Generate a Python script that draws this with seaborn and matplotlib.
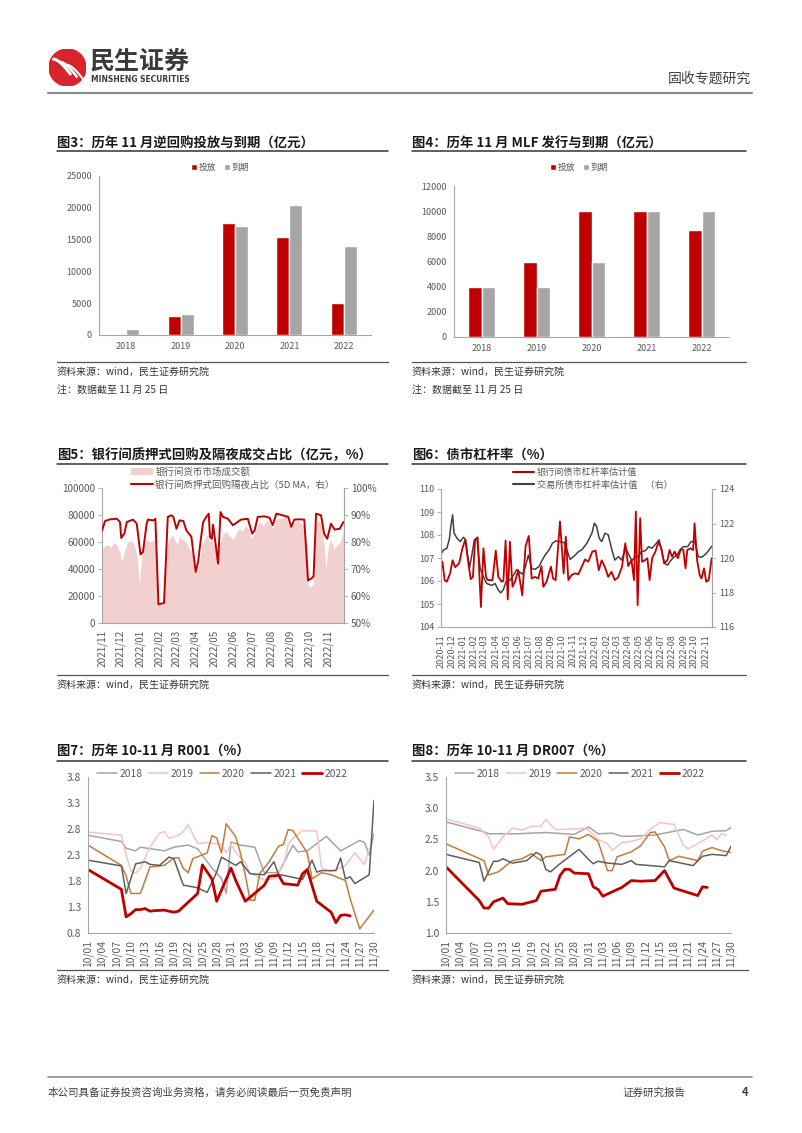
import numpy as np
import pandas as pd
import matplotlib
matplotlib.use('Agg')
import matplotlib.pyplot as plt
import seaborn as sns
from matplotlib.lines import Line2D
from matplotlib.patches import Patch, Circle
from matplotlib.ticker import FuncFormatter

sns.set_style('white')
plt.rcParams['font.family'] = ['Noto Sans CJK SC', 'DejaVu Sans']
plt.rcParams['axes.unicode_minus'] = False

# ---------------- data ----------------
years = ['2018', '2019', '2020', '2021', '2022']
rr_put = [0, 3000, 17600, 15400, 5000]
rr_due = [1000, 3300, 17200, 20400, 14000]
mlf_put = [4000, 6000, 10000, 10000, 8500]
mlf_due = [4000, 4000, 6000, 10000, 10000]

# fig5: interbank volume (亿元) and overnight share (%, 5D MA)
vol_dates = ['2021-11-01', '2021-11-05', '2021-11-10', '2021-11-15', '2021-11-20', '2021-11-25',
             '2021-11-30', '2021-12-03', '2021-12-08', '2021-12-13', '2021-12-18', '2021-12-23',
             '2021-12-28', '2021-12-31', '2022-01-04', '2022-01-08', '2022-01-13', '2022-01-18',
             '2022-01-24', '2022-01-28', '2022-01-31', '2022-02-05', '2022-02-09', '2022-02-14',
             '2022-02-18', '2022-02-22', '2022-02-26', '2022-03-02', '2022-03-06', '2022-03-11',
             '2022-03-16', '2022-03-21', '2022-03-26', '2022-03-31', '2022-04-03', '2022-04-07',
             '2022-04-11', '2022-04-15', '2022-04-20', '2022-04-24', '2022-04-28', '2022-05-02',
             '2022-05-06', '2022-05-10', '2022-05-15', '2022-05-20', '2022-05-25', '2022-05-31',
             '2022-06-05', '2022-06-10', '2022-06-15', '2022-06-20', '2022-06-25', '2022-06-30',
             '2022-07-04', '2022-07-09', '2022-07-14', '2022-07-19', '2022-07-24', '2022-07-29',
             '2022-08-03', '2022-08-08', '2022-08-13', '2022-08-18', '2022-08-23', '2022-08-28',
             '2022-09-02', '2022-09-07', '2022-09-12', '2022-09-17', '2022-09-22', '2022-09-27',
             '2022-09-30', '2022-10-04', '2022-10-08', '2022-10-11', '2022-10-15', '2022-10-20',
             '2022-10-24', '2022-10-28', '2022-11-01', '2022-11-05', '2022-11-10', '2022-11-15',
             '2022-11-20', '2022-11-25']
vol = [55000, 57000, 58000, 56000, 60000, 58000,
       52000, 45000, 55000, 60000, 61000, 58000,
       48000, 28000, 50000, 58000, 62000, 60000,
       62000, 55000, 14000, 13000, 14000, 58000,
       63000, 65000, 62000, 58000, 64000, 62000,
       60000, 56000, 52000, 40000, 38000, 45000,
       58000, 62000, 66000, 60000, 62000, 55000,
       45000, 60000, 66000, 68000, 65000, 62000,
       66000, 70000, 68000, 72000, 70000, 62000,
       66000, 72000, 75000, 72000, 76000, 74000,
       70000, 76000, 78000, 77000, 79000, 75000,
       70000, 74000, 76000, 74000, 72000, 60000,
       27000, 27000, 29000, 70000, 76000, 74000,
       62000, 40000, 58000, 62000, 55000, 58000,
       60000, 68000]
ratio_dates = ['2021-11-01', '2021-11-06', '2021-11-14', '2021-11-25', '2021-11-30', '2021-12-02',
               '2021-12-07', '2021-12-11', '2021-12-21', '2021-12-27', '2022-01-02', '2022-01-06',
               '2022-01-12', '2022-01-14', '2022-01-23', '2022-01-26', '2022-01-31', '2022-02-05',
               '2022-02-09', '2022-02-15', '2022-02-21', '2022-02-24', '2022-03-01', '2022-03-06',
               '2022-03-12', '2022-03-17', '2022-03-25', '2022-04-01', '2022-04-05', '2022-04-09',
               '2022-04-13', '2022-04-18', '2022-04-22', '2022-04-24', '2022-04-27', '2022-04-29',
               '2022-05-02', '2022-05-07', '2022-05-11', '2022-05-15', '2022-05-23', '2022-05-31',
               '2022-06-05', '2022-06-13', '2022-06-24', '2022-07-01', '2022-07-05', '2022-07-10',
               '2022-07-21', '2022-07-29', '2022-08-03', '2022-08-09', '2022-08-19', '2022-08-28',
               '2022-09-02', '2022-09-07', '2022-09-15', '2022-09-23', '2022-09-29', '2022-10-04',
               '2022-10-08', '2022-10-12', '2022-10-20', '2022-10-25', '2022-10-30', '2022-11-05',
               '2022-11-11', '2022-11-19', '2022-11-25']
ratio = [84.3, 87.8, 88.4, 88.6, 87.4, 81.5,
         83.1, 87.4, 88.3, 86.8, 75.4, 76.3,
         86.8, 88.3, 88.0, 88.6, 56.9, 57.2,
         57.4, 89.3, 89.9, 89.3, 84.9, 88.0,
         87.8, 84.3, 82.0, 68.9, 72.8, 80.6,
         87.4, 89.3, 90.5, 81.9, 81.2, 86.4,
         81.2, 72.0, 91.1, 89.3, 88.6, 86.2,
         87.0, 88.3, 88.6, 83.1, 84.3, 89.3,
         89.5, 89.0, 86.2, 90.5, 89.9, 89.3,
         85.6, 88.3, 88.4, 88.3, 65.8, 66.4,
         67.3, 90.5, 89.9, 83.1, 81.2, 86.8,
         84.6, 84.9, 87.4]
months5 = ['2021/11', '2021/12', '2022/01', '2022/02', '2022/03', '2022/04', '2022/05',
           '2022/06', '2022/07', '2022/08', '2022/09', '2022/10', '2022/11']

# fig6: leverage ratio estimates
bank_dates = ['2020-11-01', '2020-11-05', '2020-11-11', '2020-11-17', '2020-11-26', '2020-12-03',
              '2020-12-10', '2020-12-21', '2020-12-30', '2021-01-07', '2021-01-16', '2021-01-22',
              '2021-01-28', '2021-02-03', '2021-02-10', '2021-02-15', '2021-02-19', '2021-02-26',
              '2021-03-05', '2021-03-10', '2021-03-23', '2021-04-01', '2021-04-08', '2021-04-17',
              '2021-04-22', '2021-04-28', '2021-05-04', '2021-05-10', '2021-05-17', '2021-05-24',
              '2021-06-02', '2021-06-13', '2021-06-22', '2021-07-01', '2021-07-09', '2021-07-18',
              '2021-07-27', '2021-08-05', '2021-08-10', '2021-08-19', '2021-08-31', '2021-09-06',
              '2021-09-13', '2021-09-25', '2021-10-05', '2021-10-11', '2021-10-18', '2021-10-27',
              '2021-11-05', '2021-11-15', '2021-11-24', '2021-12-03', '2021-12-12', '2021-12-23',
              '2022-01-01', '2022-01-10', '2022-01-18', '2022-01-27', '2022-02-05', '2022-02-14',
              '2022-02-23', '2022-03-04', '2022-03-15', '2022-03-24', '2022-04-01', '2022-04-10',
              '2022-04-17', '2022-04-22', '2022-04-27', '2022-05-04', '2022-05-09', '2022-05-17',
              '2022-05-24', '2022-05-30', '2022-06-06', '2022-06-15', '2022-06-24', '2022-07-01',
              '2022-07-09', '2022-07-18', '2022-07-24', '2022-07-31', '2022-08-07', '2022-08-16',
              '2022-08-24', '2022-08-31', '2022-09-06', '2022-09-11', '2022-09-20', '2022-09-27',
              '2022-10-01', '2022-10-08', '2022-10-15', '2022-10-20', '2022-10-27', '2022-11-02',
              '2022-11-09', '2022-11-17']
bank_lev = [106.50, 106.84, 106.04, 105.97, 106.33, 106.90,
            106.60, 106.77, 107.42, 107.80, 106.70, 106.08,
            106.18, 107.79, 107.90, 106.20, 104.87, 107.42,
            106.18, 106.04, 106.04, 107.32, 106.18, 105.97,
            106.00, 107.76, 105.20, 107.71, 105.75, 105.97,
            106.47, 105.38, 107.50, 107.96, 106.11, 106.18,
            106.11, 106.65, 105.75, 105.97, 106.62, 106.11,
            106.04, 108.59, 106.33, 107.93, 106.04, 106.26,
            106.33, 106.30, 106.62, 106.94, 106.84, 107.28,
            107.32, 106.47, 106.90, 106.60, 106.18, 106.40,
            106.04, 106.16, 106.62, 107.64, 106.65, 106.90,
            106.04, 109.02, 104.95, 108.73, 106.84, 106.90,
            106.99, 106.04, 106.99, 107.28, 107.71, 107.42,
            106.77, 106.90, 107.35, 107.06, 107.28, 106.99,
            107.38, 107.35, 106.55, 107.35, 107.42, 107.35,
            108.51, 106.90, 106.26, 106.11, 106.55, 105.97,
            106.04, 106.99]
exch_dates = ['2020-11-01', '2020-11-08', '2020-11-17', '2020-11-24', '2020-11-28', '2020-12-03',
              '2020-12-07', '2020-12-15', '2020-12-24', '2021-01-02', '2021-01-08', '2021-01-13',
              '2021-01-19', '2021-01-25', '2021-02-01', '2021-02-08', '2021-02-12', '2021-02-17',
              '2021-02-26', '2021-03-07', '2021-03-21', '2021-03-30', '2021-04-08', '2021-04-15',
              '2021-04-22', '2021-04-29', '2021-05-11', '2021-05-22', '2021-05-29', '2021-06-04',
              '2021-06-14', '2021-06-21', '2021-06-30', '2021-07-09', '2021-07-18', '2021-07-29',
              '2021-08-07', '2021-08-15', '2021-08-26', '2021-09-04', '2021-09-13', '2021-09-25',
              '2021-10-07', '2021-10-14', '2021-10-23', '2021-11-06', '2021-11-15', '2021-11-24',
              '2021-12-08', '2021-12-22', '2021-12-29', '2022-01-04', '2022-01-11', '2022-01-18',
              '2022-01-27', '2022-02-05', '2022-02-14', '2022-02-23', '2022-03-05', '2022-03-14',
              '2022-03-25', '2022-04-02', '2022-04-11', '2022-04-20', '2022-04-29', '2022-05-08',
              '2022-05-19', '2022-05-27', '2022-06-05', '2022-06-14', '2022-06-25', '2022-07-02',
              '2022-07-10', '2022-07-19', '2022-07-25', '2022-08-04', '2022-08-13', '2022-08-22',
              '2022-08-31', '2022-09-12', '2022-09-21', '2022-10-02', '2022-10-11', '2022-10-20',
              '2022-11-01', '2022-11-10', '2022-11-18']
exch_lev = [120.23, 120.47, 120.56, 121.09, 121.83, 122.50,
            121.44, 121.15, 120.95, 121.20, 121.05, 120.17,
            119.46, 120.17, 121.05, 121.15, 120.31, 119.40,
            118.91, 118.52, 118.41, 118.52, 118.14, 117.98,
            118.17, 118.62, 118.72, 119.07, 119.34, 119.20,
            119.07, 119.46, 120.17, 119.40, 119.34, 119.50,
            119.88, 120.17, 120.47, 120.85, 120.99, 120.95,
            120.89, 120.47, 119.92, 120.17, 120.37, 120.47,
            120.85, 121.44, 122.02, 121.83, 121.15, 120.95,
            121.44, 121.34, 120.56, 119.88, 120.08, 119.88,
            120.56, 120.23, 119.84, 120.08, 120.08, 120.37,
            120.43, 120.66, 120.56, 120.76, 121.05, 120.47,
            119.69, 119.59, 119.79, 120.04, 120.17, 120.47,
            120.66, 120.66, 120.95, 120.95, 120.08, 120.04,
            120.23, 120.47, 120.70]
months6 = ['2020-11', '2020-12', '2021-01', '2021-02', '2021-03', '2021-04', '2021-05',
           '2021-06', '2021-07', '2021-08', '2021-09', '2021-10', '2021-11', '2021-12',
           '2022-01', '2022-02', '2022-03', '2022-04', '2022-05', '2022-06', '2022-07',
           '2022-08', '2022-09', '2022-10', '2022-11']

# fig7 / fig8: day index counted from 10/01
day_labels = ['10/01', '10/04', '10/07', '10/10', '10/13', '10/16', '10/19', '10/22', '10/25',
              '10/28', '10/31', '11/03', '11/06', '11/09', '11/12', '11/15', '11/18', '11/21',
              '11/24', '11/27', '11/30']
r001_days = {
    '2018': [0, 7, 8, 10, 11, 16, 18, 21, 23, 26, 28, 29, 30, 32, 35, 37, 40, 43, 44, 46, 50, 53, 57, 58, 59, 60],
    '2019': [0, 7, 8, 9, 10, 11, 13, 15, 16, 17, 19, 20, 21, 23, 25, 28, 29, 30, 31, 33, 34, 35, 37, 39,
             41, 42, 43, 45, 48, 49, 51, 54, 56, 58, 59],
    '2020': [0, 7, 8, 9, 11, 13, 16, 18, 19, 20, 21, 22, 25, 26, 27, 28, 29, 31, 32, 33, 34, 35, 36, 38,
             40, 41, 42, 43, 46, 47, 49, 51, 54, 55, 57, 60],
    '2021': [0, 7, 8, 10, 12, 13, 15, 17, 18, 20, 23, 25, 27, 28, 31, 32, 34, 37, 39, 40, 41, 45, 47, 48,
             49, 52, 53, 54, 55, 56, 59, 60],
    '2022': [0, 7, 8, 9, 10, 11, 12, 13, 14, 16, 18, 19, 23, 24, 26, 27, 30, 31, 33, 37, 38, 40, 41, 44,
             45, 46, 48, 51, 52, 53, 54, 55],
}
r001 = {
    '2018': [2.68, 2.56, 2.43, 2.38, 2.45, 2.38, 2.45, 2.49, 2.42, 2.05, 1.85, 1.56, 2.55, 2.49, 2.45,
             1.96, 1.96, 2.49, 2.36, 2.38, 2.66, 2.38, 2.58, 2.54, 2.30, 2.71],
    '2019': [2.74, 2.68, 2.30, 2.00, 1.95, 2.05, 2.45, 2.72, 2.75, 2.62, 2.68, 2.75, 2.88, 2.52, 2.54,
             2.50, 2.34, 2.50, 2.35, 2.15, 1.95, 1.91, 1.82, 1.84, 2.10, 2.50, 2.62, 2.77, 2.76, 2.05,
             1.98, 2.10, 2.34, 2.12, 2.42],
    '2020': [2.49, 2.10, 1.90, 1.56, 1.56, 2.07, 2.10, 2.24, 2.25, 2.04, 1.96, 2.23, 2.34, 2.67, 2.63,
             2.34, 2.90, 2.65, 2.33, 1.91, 1.43, 1.43, 1.94, 2.17, 2.47, 2.50, 2.79, 2.77, 2.34, 1.84,
             1.96, 1.92, 1.81, 1.46, 0.88, 1.24],
    '2021': [2.20, 2.09, 1.56, 2.13, 2.17, 2.12, 2.10, 2.26, 2.23, 1.72, 1.67, 1.58, 1.97, 2.26, 2.10,
             2.17, 1.94, 1.92, 2.17, 1.92, 1.91, 1.83, 2.20, 1.97, 2.00, 2.00, 2.24, 1.84, 1.88, 1.75,
             1.92, 3.35],
    '2022': [2.02, 1.64, 1.11, 1.17, 1.25, 1.25, 1.27, 1.22, 1.23, 1.24, 1.20, 1.22, 1.56, 2.11, 1.84,
             1.41, 2.05, 1.81, 1.41, 1.72, 1.89, 1.91, 1.75, 1.72, 1.94, 2.02, 1.41, 1.20, 1.00, 1.14,
             1.15, 1.13],
}
dr_days = {
    '2018': [0, 8, 9, 15, 21, 27, 30, 32, 35, 37, 39, 44, 46, 50, 53, 56, 59, 60],
    '2019': [0, 7, 9, 10, 12, 14, 16, 18, 20, 21, 23, 25, 29, 30, 32, 34, 35, 37, 39, 41, 43, 45, 48,
             50, 51, 53, 56, 57, 58, 59],
    '2020': [0, 8, 9, 11, 14, 16, 18, 20, 21, 25, 26, 28, 30, 32, 33, 34, 35, 36, 39, 41, 43, 44, 46,
             47, 49, 53, 54, 56, 58, 60],
    '2021': [0, 7, 8, 10, 11, 12, 14, 17, 19, 20, 21, 22, 24, 28, 30, 31, 32, 34, 37, 39, 40, 46, 47,
             52, 54, 56, 59, 60],
    '2022': [0, 7, 8, 9, 10, 12, 13, 16, 19, 20, 23, 24, 25, 26, 27, 30, 31, 32, 33, 37, 39, 41, 44,
             46, 48, 53, 54, 55],
}
dr007 = {
    '2018': [2.78, 2.62, 2.59, 2.59, 2.61, 2.58, 2.70, 2.59, 2.60, 2.55, 2.55, 2.57, 2.60, 2.66, 2.57,
             2.63, 2.64, 2.69],
    '2019': [2.83, 2.68, 2.54, 2.34, 2.54, 2.68, 2.65, 2.71, 2.71, 2.82, 2.66, 2.66, 2.68, 2.65, 2.50,
             2.43, 2.32, 2.45, 2.47, 2.51, 2.66, 2.77, 2.74, 2.40, 2.35, 2.43, 2.57, 2.50, 2.59, 2.57],
    '2020': [2.43, 2.16, 1.93, 1.98, 2.16, 2.19, 2.27, 2.16, 2.22, 2.26, 2.54, 2.51, 2.58, 2.47, 2.24,
             2.00, 2.00, 2.22, 2.30, 2.40, 2.61, 2.62, 2.38, 2.16, 2.23, 2.16, 2.31, 2.37, 2.32, 2.29],
    '2021': [2.26, 2.13, 1.83, 2.15, 2.15, 2.19, 2.12, 2.16, 2.29, 2.25, 2.02, 1.98, 2.11, 2.34, 2.18,
             2.11, 2.15, 2.12, 2.10, 2.16, 2.10, 2.06, 2.16, 2.08, 2.23, 2.26, 2.24, 2.39],
    '2022': [2.06, 1.52, 1.40, 1.40, 1.50, 1.56, 1.47, 1.46, 1.52, 1.67, 1.70, 1.92, 2.02, 2.02, 1.96,
             1.95, 1.74, 1.70, 1.59, 1.73, 1.84, 1.83, 1.84, 2.00, 1.72, 1.60, 1.74, 1.73],
}

# ---------------- styling ----------------
RED = '#C00000'
GREY_BAR = '#A5A5A5'
PINK = '#F2D0D0'
AXC = '#A6A6A6'
TXT = '#595959'
year_colors = {'2018': '#A5A5A5', '2019': '#F2C4C4', '2020': '#C47A3C', '2021': '#5F5F5F', '2022': RED}

W, H = 802, 1133
fig = plt.figure(figsize=(W / 100, H / 100), dpi=100)


def box(x0, y0, x1, y1):
    return [x0 / W, 1 - y1 / H, (x1 - x0) / W, (y1 - y0) / H]


def ftext(x, y, s, **kw):
    kw.setdefault('va', 'center')
    fig.text(x / W, 1 - y / H, s, **kw)


def hline(x0, x1, y, **kw):
    fig.add_artist(Line2D([x0 / W, x1 / W], [1 - y / H] * 2, transform=fig.transFigure, **kw))


def style(ax, size, left=True, right=False, bottom=True):
    ax.spines['top'].set_visible(False)
    ax.spines['left'].set_visible(left)
    ax.spines['right'].set_visible(right)
    ax.spines['bottom'].set_visible(bottom)
    for s in ax.spines.values():
        s.set_color(AXC)
        s.set_linewidth(0.8)
    ax.tick_params(colors=TXT, labelsize=size, length=3, width=0.6, color=AXC, pad=2)
    ax.grid(False)
    ax.set_xlabel('')
    ax.set_ylabel('')


def section(x0, x1, title, y_title, y_rule):
    ftext(x0, y_title, title, fontsize=9.6, fontweight='bold', color='#1A1A1A')
    hline(x0, x1, y_rule, color='#333333', lw=1.1)


def source(x0, x1, y_rule, y_text, note=None):
    hline(x0, x1, y_rule, color='#555555', lw=0.9)
    ftext(x0, y_text, '资料来源：wind，民生证券研究院', fontsize=7.2, color='#333333')
    if note:
        ftext(x0, y_text + 18, note, fontsize=7.2, color='#333333')


# ---------------- header / footer ----------------
logo = fig.add_axes(box(49, 49, 86, 86))
logo.set_xlim(-1, 1)
logo.set_ylim(-1, 1)
logo.set_aspect('equal')
logo.axis('off')
logo.add_patch(Circle((0, 0), 1, color='#D7262B'))
tt = np.linspace(0, 1, 30)
for k in range(3):
    xs = -0.75 + 0.35 * k + 0.9 * tt
    ys = 0.45 - 0.15 * k - 1.1 * tt ** 1.4 + 0.3 * tt
    logo.plot(xs, ys, color='white', lw=2.2 - 0.4 * k, solid_capstyle='round')
ftext(90, 62, '民生证券', fontsize=18, fontweight='bold', color='#3A3A3A')
ftext(91, 80, 'MINSHENG SECURITIES', fontsize=6.0, fontweight='bold', color='#3A3A3A',
      family='DejaVu Sans', fontstretch='condensed')
ftext(751, 79, '固收专题研究', fontsize=10, color='#404040', ha='right')
hline(48, 752, 93, color='#8C8C8C', lw=1.6)

hline(48, 752, 1077, color='#8C8C8C', lw=1.2)
ftext(48, 1093, '本公司具备证券投资咨询业务资格，请务必阅读最后一页免责声明', fontsize=7.6, color='#404040')
ftext(622, 1093, '证券研究报告', fontsize=7.6, color='#404040')
ftext(742, 1093, '4', fontsize=8, color='#404040', fontweight='bold')


# ---------------- fig3 / fig4 bars ----------------
def bars(rect, put, due, ymax, step, leg_xy):
    ax = fig.add_axes(rect)
    df = pd.DataFrame({'年份': years * 2, '类型': ['投放'] * 5 + ['到期'] * 5, '值': put + due})
    sns.barplot(data=df, x='年份', y='值', hue='类型', palette={'投放': RED, '到期': GREY_BAR},
                width=0.48, gap=0, saturation=1, ax=ax)
    ax.set_ylim(0, ymax)
    ax.set_xlim(-0.5, 4.5)
    ax.set_yticks(np.arange(0, ymax + 1, step))
    style(ax, 6.5)
    ax.set_xticks(np.arange(-0.5, 5, 1), minor=True)
    ax.tick_params(axis='x', which='major', length=0, pad=5)
    ax.tick_params(axis='x', which='minor', length=3, width=0.6, color=AXC)
    ax.legend(loc='center', bbox_to_anchor=leg_xy, ncol=2, frameon=False, fontsize=6.3,
              handlelength=0.7, handleheight=0.7, handletextpad=0.2, columnspacing=0.8,
              labelcolor=TXT)
    return ax


section(57, 388, '图3：历年 11 月逆回购投放与到期（亿元）', 143.5, 151)
bars(box(99, 176, 371, 335), rr_put, rr_due, 25000, 5000, (0.445, 1.055))
source(57, 388, 362, 372, '注：数据截至 11 月 25 日')

section(412, 746, '图4：历年 11 月 MLF 发行与到期（亿元）', 143.5, 151)
bars(box(454, 186, 729, 337), mlf_put, mlf_due, 12000, 2000, (0.455, 1.125))
source(412, 746, 362, 372, '注：数据截至 11 月 25 日')

# ---------------- fig5 ----------------
section(57, 388, '图5：银行间质押式回购及隔夜成交占比（亿元，%）', 455, 464)
ax5 = fig.add_axes(box(102, 488, 344, 623))
ax5.fill_between(pd.to_datetime(vol_dates), vol, color=PINK, lw=0)
ax5.set_ylim(0, 100000)
ax5.set_yticks(np.arange(0, 100001, 20000))
ax5b = ax5.twinx()
sns.lineplot(x=pd.to_datetime(ratio_dates), y=ratio, ax=ax5b, color=RED, linewidth=1.4)
ax5b.set_ylim(50, 100)
ax5b.set_yticks(np.arange(50, 101, 10))
ax5b.yaxis.set_major_formatter(FuncFormatter(lambda v, p: f'{v:.0f}%'))
m5 = pd.to_datetime([m.replace('/', '-') + '-01' for m in months5])
ax5.set_xlim(pd.Timestamp('2021-11-01'), pd.Timestamp('2022-11-26'))
ax5.set_xticks(m5)
ax5.set_xticklabels(months5, rotation=90)
style(ax5, 7.2, right=True)
style(ax5b, 7.2, left=False, right=True, bottom=False)
ax5.legend([Patch(facecolor=PINK, edgecolor='none'), Line2D([], [], color=RED, lw=1.5)],
           ['银行间货币市场成交额', '银行间质押式回购隔夜占比（5D MA，右）'],
           loc='upper left', bbox_to_anchor=(0.1, 1.19), frameon=False, fontsize=6.8,
           handlelength=2.3, handletextpad=0.3, labelspacing=0.35, borderpad=0, labelcolor=TXT)
source(57, 388, 675, 685)

# ---------------- fig6 ----------------
section(412, 746, '图6：债市杠杆率（%）', 455, 464)
ax6 = fig.add_axes(box(441, 489, 712, 627))
sns.lineplot(x=pd.to_datetime(bank_dates), y=bank_lev, ax=ax6, color=RED, linewidth=1.3)
ax6.set_ylim(104, 110)
ax6.set_yticks(np.arange(104, 111, 1))
ax6b = ax6.twinx()
sns.lineplot(x=pd.to_datetime(exch_dates), y=exch_lev, ax=ax6b, color='#404040', linewidth=1.1)
ax6b.set_ylim(116, 124)
ax6b.set_yticks(np.arange(116, 125, 2))
m6 = pd.to_datetime([m + '-01' for m in months6])
ax6.set_xlim(pd.Timestamp('2020-11-01'), pd.Timestamp('2022-11-18'))
ax6.set_xticks(m6)
ax6.set_xticklabels(months6, rotation=90)
style(ax6, 6.6, right=True)
style(ax6b, 6.6, left=False, right=True, bottom=False)
ax6.set_zorder(ax6b.get_zorder() + 1)
ax6.patch.set_visible(False)
ax6.legend([Line2D([], [], color=RED, lw=1.5), Line2D([], [], color='#404040', lw=1.5)],
           ['银行间债市杠杆率估计值', '交易所债市杠杆率估计值    （右）'],
           loc='upper left', bbox_to_anchor=(0.25, 1.185), frameon=False, fontsize=6.6,
           handlelength=2.3, handletextpad=0.3, labelspacing=0.35, borderpad=0, labelcolor=TXT)
source(412, 746, 675, 685)


# ---------------- fig7 / fig8 ----------------
def rates(rect, days, vals, ylo, yhi, step, leg_x):
    ax = fig.add_axes(rect)
    for y in years:
        sns.lineplot(x=days[y], y=vals[y], ax=ax, color=year_colors[y],
                     linewidth=2.0 if y == '2022' else 1.1, label=y)
    ax.set_xlim(0, 60)
    ax.set_ylim(ylo, yhi)
    ax.set_yticks(np.round(np.arange(ylo, yhi + 0.01, step), 2))
    ax.yaxis.set_major_formatter(FuncFormatter(lambda v, p: f'{v:.1f}'))
    ax.set_xticks(np.arange(0, 61, 3))
    ax.set_xticklabels(day_labels, rotation=90)
    style(ax, 7.4)
    ax.legend(loc='center', bbox_to_anchor=(leg_x, 1.02), ncol=5, frameon=False, fontsize=7.4,
              handlelength=1.9, handletextpad=0.25, columnspacing=0.6, labelcolor=TXT)
    return ax


section(57, 388, '图7：历年 10-11 月 R001（%）', 751, 761)
rates(box(88, 777, 374, 933), r001_days, r001, 0.8, 3.8, 0.5, 0.47)
source(57, 388, 970, 980)

section(412, 746, '图8：历年 10-11 月 DR007（%）', 751, 761)
rates(box(446, 777, 731, 933), dr_days, dr007, 1.0, 3.5, 0.5, 0.47)
source(412, 748, 970, 980)

fig.savefig('out.png', dpi=100)
